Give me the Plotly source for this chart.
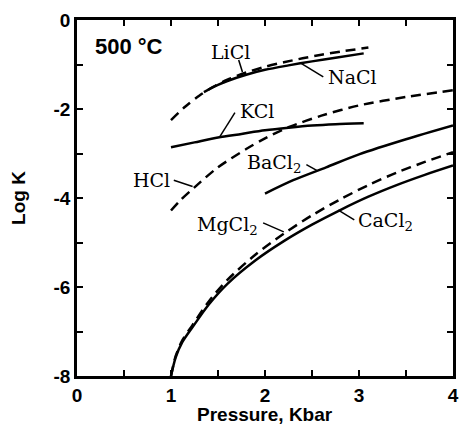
import plotly.graph_objects as go

# ---- data ----
licl_p = [1.0, 1.15, 1.3, 1.45, 1.6, 1.8, 2.0, 2.2, 2.4, 2.6, 2.8, 3.1]
licl_k = [-2.25, -1.95, -1.70, -1.50, -1.34, -1.18, -1.05, -0.95, -0.86, -0.78, -0.71, -0.62]

nacl_p = [1.35, 1.5, 1.6, 1.8, 2.0, 2.25, 2.5, 2.75, 3.05]
nacl_k = [-1.62, -1.46, -1.37, -1.23, -1.12, -1.02, -0.93, -0.85, -0.75]

kcl_p = [1.0, 1.25, 1.5, 1.75, 2.0, 2.25, 2.5, 2.75, 3.05]
kcl_k = [-2.86, -2.75, -2.64, -2.56, -2.48, -2.42, -2.37, -2.34, -2.32]

hcl_p = [1.0, 1.1, 1.25, 1.5, 1.8, 2.0, 2.25, 2.6, 3.0, 3.5, 4.0]
hcl_k = [-4.28, -4.05, -3.76, -3.31, -2.90, -2.66, -2.41, -2.15, -1.92, -1.73, -1.58]

bacl2_p = [2.0, 2.3, 2.65, 3.0, 3.5, 4.0]
bacl2_k = [-3.90, -3.60, -3.31, -3.02, -2.68, -2.37]

mgcl2_p = [1.0, 1.05, 1.12, 1.23, 1.4, 1.6, 1.9, 2.2, 2.5, 2.8, 3.1, 3.4, 3.7, 4.0]
mgcl2_k = [-8.0, -7.55, -7.2, -6.85, -6.33, -5.84, -5.27, -4.80, -4.39, -4.03, -3.71, -3.43, -3.19, -2.97]

cacl2_p = [1.0, 1.05, 1.12, 1.23, 1.4, 1.6, 1.9, 2.2, 2.5, 2.8, 3.1, 3.4, 3.7, 4.0]
cacl2_k = [-8.0, -7.58, -7.24, -6.9, -6.40, -5.93, -5.40, -4.97, -4.60, -4.27, -3.97, -3.71, -3.48, -3.27]

x_tickvals = [0, 0.5, 1, 1.5, 2, 2.5, 3, 3.5, 4]
x_ticktext = ["0", "", "1", "", "2", "", "3", "", "4"]
y_tickvals = [0, -1, -2, -3, -4, -5, -6, -7, -8]
y_ticktext = ["0", "", "-2", "", "-4", "", "-6", "", "-8"]

# label texts and positions
labels = [
    ("LiCl", 1.63, -0.72),
    ("NaCl", 2.93, -1.28),
    ("KCl", 1.91, -2.05),
    ("HCl", 0.79, -3.60),
    ("BaCl<sub>2</sub>", 2.10, -3.22),
    ("MgCl<sub>2</sub>", 1.60, -4.62),
    ("CaCl<sub>2</sub>", 3.28, -4.53),
]
# leader lines (label side -> curve side)
leaders = [
    ((1.72, -0.90), (1.76, -1.17)),
    ((2.62, -1.28), (2.38, -0.97)),
    ((1.68, -2.08), (1.52, -2.62)),
    ((1.03, -3.60), (1.23, -3.74)),
    ((2.44, -3.25), (2.55, -3.38)),
    ((1.98, -4.56), (2.20, -4.76)),
    ((2.95, -4.49), (2.78, -4.27)),
]

fig = go.Figure()

def add(p, k, dash):
    fig.add_trace(go.Scatter(x=p, y=k, mode="lines",
                             line=dict(color="black", width=2.5, dash=dash, shape="spline", smoothing=0.8),
                             showlegend=False, hoverinfo="skip"))

add(licl_p, licl_k, "10px,6px")
add(nacl_p, nacl_k, "solid")
add(kcl_p, kcl_k, "solid")
add(hcl_p, hcl_k, "10px,6px")
add(bacl2_p, bacl2_k, "solid")
add(mgcl2_p, mgcl2_k, "10px,6px")
add(cacl2_p, cacl2_k, "solid")

serif = dict(family="DejaVu Serif, serif", size=19, color="black")
for txt, x, y in labels:
    fig.add_annotation(x=x, y=y, text=txt, showarrow=False, font=serif,
                       xanchor="center", yanchor="middle")

for (x0, y0), (x1, y1) in leaders:
    fig.add_shape(type="line", x0=x0, y0=y0, x1=x1, y1=y1,
                  line=dict(color="black", width=1.5))

fig.add_annotation(x=0.55, y=-0.59, text="500 °C", showarrow=False,
                   font=dict(family="Liberation Sans, Arial, sans-serif", size=22, color="black", weight="bold"),
                   xanchor="center", yanchor="middle")

axfont = dict(family="Liberation Sans, Arial, sans-serif", size=19, color="black", weight="bold")

# axis titles as paper-positioned annotations
fig.add_annotation(xref="paper", yref="paper", x=0.5, y=-0.108, text="Pressure, Kbar",
                   showarrow=False, font=axfont, xanchor="center", yanchor="middle")
fig.add_annotation(xref="paper", yref="paper", x=-0.157, y=0.5, text="Log K", textangle=-90,
                   showarrow=False, font=axfont, xanchor="center", yanchor="middle")

fig.update_xaxes(range=[0, 4], tickvals=x_tickvals, ticktext=x_ticktext,
                 ticks="inside", ticklen=6, tickwidth=2, tickcolor="black",
                 showline=True, linecolor="black", linewidth=2.5, mirror="ticks",
                 showgrid=False, zeroline=False, tickfont=axfont, automargin=False)
fig.update_yaxes(range=[-8, 0], tickvals=y_tickvals, ticktext=y_ticktext,
                 ticks="inside", ticklen=6, tickwidth=2, tickcolor="black",
                 showline=True, linecolor="black", linewidth=2.5, mirror="ticks",
                 showgrid=False, zeroline=False, tickfont=axfont, automargin=False)

fig.update_layout(width=459, height=424, margin=dict(l=77, r=6, t=20, b=48),
                  plot_bgcolor="white", paper_bgcolor="white")

fig.write_html("out.html")
